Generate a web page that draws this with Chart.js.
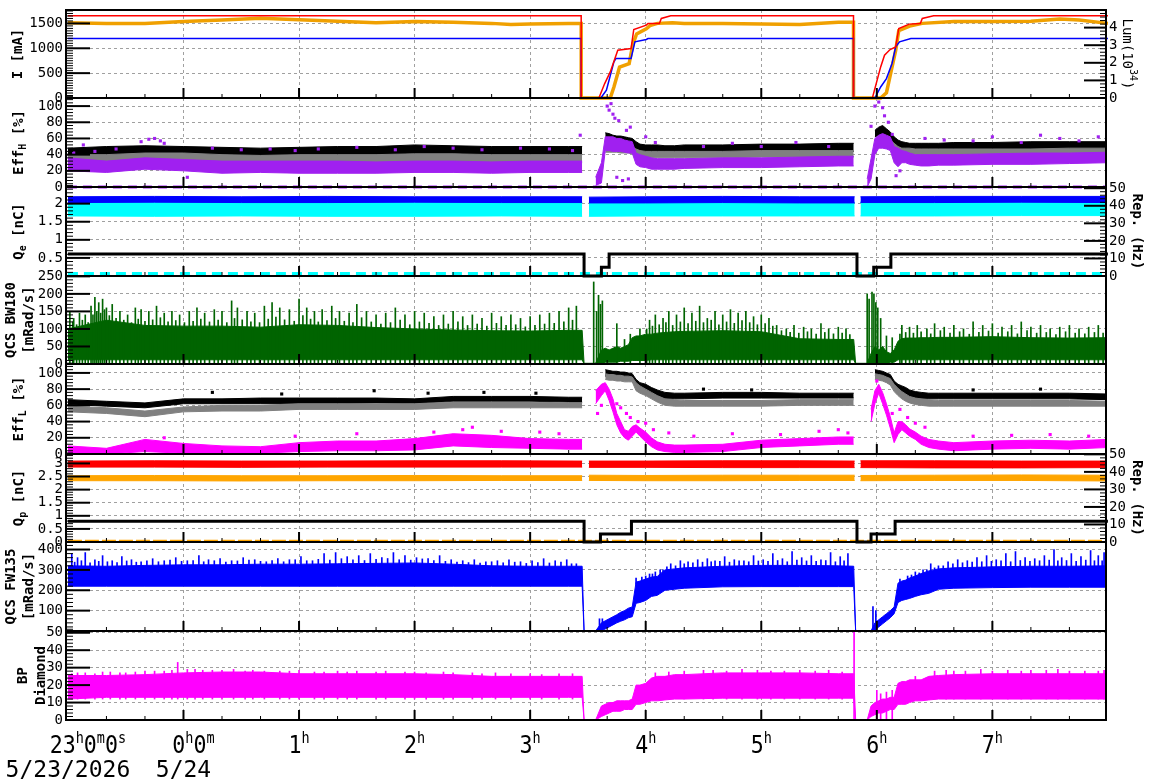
<!DOCTYPE html>
<html>
<head>
<meta charset="utf-8">
<title>Beam status</title>
<script src="https://cdn.jsdelivr.net/npm/chart.js@4.4.1/dist/chart.umd.min.js"></script>
<style>
  html, body { margin: 0; padding: 0; background: #fff; }
  #wrap { position: relative; width: 1172px; height: 782px; overflow: hidden; background: #fff; }
  #wrap canvas { position: absolute; left: 0; }
</style>
</head>
<body>
<div id="wrap"></div>
<script>
// time axis: minutes after 23:00 on 5/23
const hourTicks = [60, 120, 180, 240, 300, 360, 420, 480];
const xLabels = ['23h0m0s', '0h0m', '1h', '2h', '3h', '4h', '5h', '6h', '7h'];
const xLabelTimes = [0, 60, 120, 180, 240, 300, 360, 420, 480];
const dateLabels = ['5/23/2026', '5/24'];
const dateTimes = [0, 60];

// y tick labels
const iTicks = [0, 500, 1000, 1500];
const lumTicks = [0, 1, 2, 3, 4];
const effTicks = [0, 20, 40, 60, 80, 100];
const qeTicks = [0, 0.5, 1, 1.5, 2];
const repTicks = [0, 10, 20, 30, 40, 50];
const bwTicks = [0, 50, 100, 150, 200, 250];
const qpTicks = [0, 0.5, 1, 1.5, 2, 2.5, 3];
const fwTicks = [0, 100, 200, 300, 400];
const bpTicks = [0, 10, 20, 30, 40, 50];

// beam currents [mA] and luminosity [1e34]
const lerT = [0, 266.5, 266.5, 275.7, 278.7, 281.6, 285.5, 292.4, 293.8, 300.3, 301.2, 307.1, 308.1, 313, 407.9, 407.9, 417.7, 422, 424, 426.9, 429.8, 431.4, 436.8, 442.6, 443.6, 449.5, 540];
const lerI = [1655, 1655, 0, 0, 290, 524, 962, 996, 1379, 1466, 1500, 1500, 1600, 1653, 1653, 0, 0, 625, 861, 975, 1028, 1399, 1486, 1500, 1600, 1653, 1653];
const herT = [0, 266.5, 266.5, 276.7, 279.6, 283.5, 284.5, 292.4, 294.4, 300.3, 301.2, 407.9, 407.9, 419, 422, 425, 427.9, 429.8, 431.8, 437.7, 540];
const herI = [1197, 1197, 0, 0, 155, 726, 794, 794, 1129, 1177, 1197, 1197, 0, 0, 222, 391, 694, 1028, 1129, 1197, 1197];
const lumT = [0, 20, 40, 60, 80, 100, 120, 140, 160, 180, 200, 220, 230, 240, 260, 266.5, 266.5, 281.6, 283.5, 286.4, 291.4, 293.4, 295.3, 300.3, 302.2, 306.1, 313.9, 320, 340, 360, 380, 400, 407.9, 407.9, 422, 425, 427.9, 429.8, 431.4, 437.7, 443.6, 460, 480, 500, 515, 525, 540];
const lumV = [4.27, 4.24, 4.24, 4.34, 4.43, 4.53, 4.45, 4.36, 4.28, 4.34, 4.30, 4.24, 4.17, 4.20, 4.24, 4.24, 0, 0, 0.62, 1.75, 1.95, 3.08, 3.64, 3.93, 4.11, 4.24, 4.27, 4.24, 4.24, 4.20, 4.17, 4.30, 4.30, 0, 0, 0.3, 1.75, 2.7, 3.83, 4.11, 4.24, 4.34, 4.34, 4.36, 4.49, 4.43, 4.24];

// injection repetition [Hz]
const repET = [0, 268, 268, 277, 277, 281, 281, 409.7, 409.7, 418.4, 418.4, 427.3, 427.3, 540];
const repEV = [12.5, 12.5, 0, 0, 5, 5, 12.5, 12.5, 0, 0, 5, 5, 12.5, 12.5];
const repPT = [0, 268, 268, 276.5, 276.5, 292.6, 292.6, 409.7, 409.7, 417, 417, 429.5, 429.5, 540];
const repPV = [11.8, 11.8, 0, 0, 4.5, 4.5, 11.8, 11.8, 0, 0, 4.5, 4.5, 11.8, 11.8];

// rows of readings sitting on the floor of a panel
const fullSpanT = [0, 539];
const effHZeroRow = [0, 0];
const qeLowRow = [0.07, 0.07];
const qpLowRow = [0.03, 0.03];

// sample times for the band-like series
const T = [0, 20, 40, 60, 80, 100, 120, 140, 160, 180, 200, 220, 240, 260, 267,
  268, 274, 277, 279, 281, 283, 285, 287, 289, 291, 293, 295, 297, 300, 303, 306, 310, 315, 320, 340, 360, 380, 400, 408,
  409, 415, 417, 419, 421, 423, 425, 427, 429, 431, 433, 435, 437, 440, 443, 447, 452, 460, 480, 500, 520, 540];

// Eff_H [%]
const effHBlackLo = [38, 40, 41, 40, 40, 39, 40, 40, 40, 41, 41, 40, 40, 40, 40,
  null, null, null, 55, 56, 55, 55, 54, 54, 53, 52, 47, 44, 43, 42, 42, 42, 42, 42, 43, 43, 44, 44, 44,
  null, null, null, 62, 64, 65, 62, 58, 52, 48, 48, 47, 46, 45, 45, 45, 45, 45, 46, 46, 46, 46];
const effHBlackHi = [48, 50, 51, 50, 49, 48, 49, 50, 50, 52, 51, 50, 50, 50, 50,
  null, null, null, 67, 66, 64, 63, 63, 62, 61, 60, 56, 53, 52, 52, 52, 51, 51, 52, 52, 53, 53, 54, 54,
  null, null, null, 70, 74, 76, 72, 68, 62, 58, 56, 55, 54, 54, 54, 54, 54, 55, 55, 56, 56, 56];
const effHGrayLo = [30, 30, 32, 32, 30, 29, 30, 30, 30, 31, 31, 30, 30, 30, 30,
  null, null, null, 43, 43, 43, 43, 42, 42, 42, 41, 40, 38, 36, 36, 36, 36, 36, 36, 36, 37, 37, 37, 37,
  null, null, null, 48, 50, 50, 49, 48, 45, 42, 40, 40, 40, 40, 40, 40, 40, 40, 40, 40, 41, 41];
const effHGrayHi = [40, 40, 42, 42, 40, 39, 40, 40, 40, 41, 41, 40, 40, 40, 40,
  null, null, null, 51, 51, 51, 51, 50, 50, 50, 49, 47, 45, 44, 44, 44, 44, 44, 44, 44, 45, 45, 45, 45,
  null, null, null, 58, 60, 60, 59, 58, 54, 50, 48, 48, 48, 47, 47, 47, 47, 47, 47, 47, 48, 48];
const effHPurpleLo = [20, 18, 22, 20, 17, 18, 17, 17, 17, 18, 18, 17, 18, 18, 18,
  null, 2, 5, 45, 45, 44, 44, 44, 43, 42, 42, 28, 25, 24, 22, 22, 22, 22, 23, 24, 24, 25, 26, 26,
  null, 0, 10, 40, 48, 48, 47, 45, 30, 25, 30, 30, 28, 27, 26, 26, 27, 27, 28, 28, 29, 30];
const effHPurpleHi = [36, 32, 36, 34, 32, 32, 32, 32, 31, 32, 32, 31, 32, 32, 32,
  null, 12, 30, 62, 62, 62, 60, 60, 58, 57, 56, 42, 40, 38, 36, 35, 35, 35, 35, 36, 36, 37, 38, 38,
  null, 10, 35, 60, 64, 66, 64, 62, 50, 48, 45, 44, 42, 40, 40, 40, 40, 40, 41, 42, 42, 43];
const effHOutT = [3, 8, 14, 25, 38, 42, 45, 48, 50, 62, 75, 90, 105, 118, 130, 150, 170, 185, 200, 215, 235, 250, 262, 266,
  276, 280, 281, 282, 283, 284, 285, 286, 288, 290, 291, 292, 300, 305, 330, 345, 360, 378, 395,
  417, 419, 421, 423, 424, 426, 428, 430, 432, 445, 455, 470, 480, 495, 505, 515, 525, 535];
const effHOutV = [42, 52, 44, 47, 56, 59, 60, 57, 54, 12, 48, 46, 47, 45, 47, 49, 46, 50, 48, 46, 48, 47, 45, 64,
  6, 100, 95, 103, 90, 85, 12, 82, 8, 70, 10, 74, 62, 55, 50, 54, 50, 55, 50,
  75, 100, 105, 98, 88, 80, 65, 14, 20, 60, 58, 57, 62, 55, 64, 60, 57, 62];

// QCS BW180 [mRad/s]
const bwLo = [12, 12, 12, 12, 12, 12, 12, 12, 12, 12, 12, 12, 12, 12, 12,
  0, 0, 0, 5, 5, 5, 5, 8, 8, 8, 10, 10, 10, 10, 12, 12, 12, 12, 12, 12, 12, 12, 12, 12,
  0, 0, 0, 0, 0, 0, 0, 5, 5, 12, 12, 12, 12, 12, 12, 12, 12, 12, 12, 12, 12, 12];
const bwHi = [100, 125, 110, 108, 108, 105, 112, 110, 104, 100, 97, 95, 94, 96, 96,
  2, 2, 40, 45, 40, 45, 50, 45, 50, 55, 75, 80, 80, 85, 85, 88, 90, 92, 93, 95, 92, 72, 70, 70,
  2, 2, 30, 50, 40, 50, 35, 30, 40, 65, 72, 74, 74, 74, 75, 75, 76, 76, 78, 75, 74, 75];
const bwSpikeT = [1, 3, 6, 9, 12, 14, 16, 18, 20, 23, 27, 31, 35, 38, 42, 46, 50, 54, 58, 63, 67, 71, 76, 80, 85, 88, 93, 97, 102, 106,
  110, 115, 120, 124, 128, 132, 137, 141, 146, 150, 155, 160, 165, 170, 175, 180, 185, 190, 195, 200, 205, 210, 215, 220, 225, 230, 235, 240, 245, 250, 255, 260, 264,
  273, 274.5, 275.5, 276.5, 277.5, 285, 289, 292, 297, 302, 305, 309, 312, 316, 320, 324, 328, 332, 336, 340, 344, 348, 352, 356, 360, 364, 368, 373, 377, 382, 386, 391, 395, 400, 404,
  415, 416, 417.5, 418.5, 419.5, 420.5, 422, 425, 428, 433, 437, 441, 446, 450, 455, 460, 465, 470, 475, 480, 485, 490, 495, 500, 505, 510, 515, 520, 525, 530, 535, 539];
const bwSpikeV = [150, 130, 145, 140, 165, 190, 175, 185, 160, 170, 150, 140, 160, 155, 150, 165, 145, 150, 140, 150, 160, 145, 155, 150, 180, 160, 150, 145, 165, 175,
  160, 155, 185, 160, 150, 155, 165, 150, 145, 170, 150, 140, 145, 160, 140, 150, 145, 135, 140, 150, 135, 140, 130, 145, 135, 140, 130, 135, 140, 145, 150, 160, 165,
  234, 150, 196, 170, 180, 115, 70, 85, 100, 125, 140, 130, 150, 140, 160, 145, 165, 130, 150, 140, 155, 145, 150, 135, 140, 130, 110, 100, 110, 105, 100, 115, 100, 105, 100,
  200, 185, 205, 200, 175, 160, 130, 80, 75, 110, 105, 110, 100, 115, 105, 110, 100, 120, 110, 115, 105, 110, 120, 105, 110, 100, 105, 110, 100, 105, 110, 100];
const bwFineT = [2.5, 4.5, 7.5, 10.5, 13, 15, 17, 19, 21.5, 25, 29, 33, 36.5, 40, 44, 48, 52, 56, 60.5, 65,
  69, 73.5, 78, 82.5, 86.5, 90.5, 95, 99.5, 104, 108, 112.5, 117.5, 122, 126, 130, 134.5, 139, 143.5, 148, 152.5,
  157.5, 162.5, 167.5, 172.5, 177.5, 182.5, 187.5, 192.5, 197.5, 202.5, 207.5, 212.5, 217.5, 222.5, 227.5, 232.5, 237.5, 242.5, 247.5, 252.5, 257.5, 262,
  300.5, 303.5, 307, 310.5, 314, 318, 322, 326, 330, 334, 338, 342, 346, 350, 354, 358, 362, 366, 370.5, 375, 379.5, 384, 388.5, 393, 397.5, 402, 406,
  432, 435, 439, 443, 448, 453, 458, 463, 468, 473, 478, 483, 488, 493, 498, 503, 508, 513, 518, 523, 528, 533, 537.5];
const bwFineV = [120, 112, 125, 118, 140, 150, 145, 155, 138, 130, 125, 118, 128, 122, 126, 132, 120, 124, 118, 122,
  128, 120, 125, 118, 130, 126, 120, 118, 128, 134, 126, 122, 138, 128, 120, 124, 130, 122, 118, 132,
  120, 114, 118, 125, 112, 120, 116, 110, 114, 120, 110, 114, 108, 116, 110, 112, 106, 110, 114, 116, 120, 125,
  100, 108, 112, 118, 110, 120, 115, 122, 118, 125, 112, 120, 116, 124, 118, 112, 115, 108, 95, 90, 88, 92, 85, 90, 86, 88, 84,
  85, 90, 88, 92, 86, 95, 88, 92, 85, 90, 94, 88, 92, 86, 95, 88, 90, 84, 92, 88, 86, 90, 88];

// Eff_L [%]
const effLBlackLo = [61, 59, 57, 62, 62, 62, 62, 62, 63, 62, 65, 65, 65, 64, 64,
  null, null, null, 96, 96, 95, 95, 94, 94, 93, 92, 82, 79, 77, 74, 71, 68, 68, 68, 69, 69, 69, 69, 69,
  null, null, null, 97, 96, 95, 93, 90, 82, 78, 75, 73, 71, 69, 68, 68, 68, 68, 68, 68, 68, 67];
const effLBlackHi = [67, 65, 63, 68, 68, 69, 69, 69, 69, 68, 71, 71, 71, 70, 70,
  null, null, null, 104, 103, 102, 102, 101, 101, 100, 99, 92, 88, 86, 82, 79, 76, 75, 75, 76, 76, 75, 75, 75,
  null, null, null, 104, 103, 102, 100, 98, 90, 86, 84, 82, 79, 77, 76, 75, 75, 75, 75, 75, 75, 74];
const effLGrayLo = [52, 50, 46, 52, 53, 53, 55, 55, 55, 55, 57, 57, 57, 57, 57,
  null, null, null, 92, 91, 91, 90, 90, 89, 89, 89, 78, 75, 72, 68, 64, 60, 59, 59, 59, 59, 60, 60, 60,
  null, null, null, 92, 91, 90, 88, 85, 77, 72, 68, 65, 63, 61, 60, 59, 59, 59, 59, 59, 59, 59];
const effLGrayHi = [59, 57, 53, 58, 60, 60, 62, 62, 62, 62, 64, 64, 64, 63, 63,
  null, null, null, 99, 98, 98, 97, 97, 96, 96, 95, 88, 84, 80, 76, 72, 68, 67, 66, 66, 66, 67, 67, 67,
  null, null, null, 99, 98, 97, 95, 93, 86, 81, 77, 74, 71, 69, 68, 67, 66, 66, 66, 66, 66, 65];
const effLMagLo = [1, 0, 3, 1, 1, 1, 3, 4, 4, 5, 10, 8, 7, 6, 6,
  null, 62, 72, 78, 66, 52, 36, 26, 20, 17, 22, 27, 22, 15, 9, 5, 3, 2, 2, 3, 8, 10, 12, 12,
  null, null, 40, 62, 75, 62, 48, 32, 14, 24, 30, 26, 22, 18, 12, 8, 6, 4, 6, 7, 6, 8];
const effLMagHi = [10, 7, 18, 13, 10, 9, 14, 16, 16, 19, 25, 23, 19, 18, 18,
  null, 78, 86, 88, 80, 68, 50, 40, 30, 28, 34, 36, 32, 27, 20, 15, 12, 11, 11, 12, 17, 19, 21, 21,
  null, null, 55, 78, 86, 76, 62, 46, 26, 40, 40, 36, 31, 27, 22, 18, 16, 14, 16, 17, 16, 18];
const effLOutT = [50, 118, 150, 190, 205, 210, 225, 245, 255,
  275, 277, 285, 287, 290, 292, 296, 300, 304, 312, 325, 345, 370, 390, 400, 405,
  420, 428, 432, 436, 440, 445, 470, 490, 510, 530];
const effLOutV = [20, 22, 25, 27, 30, 33, 28, 27, 25,
  50, 60, 62, 57, 50, 45, 40, 38, 30, 26, 22, 25, 24, 28, 30, 26,
  90, 50, 55, 45, 38, 33, 22, 23, 24, 22];
const effLBlackOutT = [75, 111, 159, 187, 216, 243, 330, 355, 470, 505];
const effLBlackOutV = [76, 74, 78, 75, 76, 75, 80, 79, 79, 80];

// bunch charge [nC], sampled more coarsely
const QT = [0, 45, 90, 135, 180, 225, 267, 268, 270.5, 300, 340, 380, 408.5, 409.5, 411.5, 450, 495, 540];
const qeBlueLo = [2.03, 2.04, 2.03, 2.03, 2.04, 2.03, 2.03, null, 2.02, 2.02, 2.03, 2.02, 2.02, null, 2.03, 2.03, 2.04, 2.03];
const qeBlueHi = [2.19, 2.2, 2.19, 2.2, 2.19, 2.19, 2.19, null, 2.18, 2.19, 2.2, 2.19, 2.19, null, 2.19, 2.2, 2.2, 2.2];
const qeCyanLo = [1.66, 1.65, 1.66, 1.65, 1.65, 1.66, 1.65, null, 1.65, 1.66, 1.66, 1.66, 1.66, null, 1.66, 1.66, 1.67, 1.67];
const qeCyanHi = [2.05, 2.05, 2.04, 2.04, 2.05, 2.04, 2.04, null, 2.04, 2.04, 2.04, 2.04, 2.04, null, 2.05, 2.05, 2.06, 2.06];
const qpRedLo = [2.86, 2.86, 2.85, 2.86, 2.86, 2.86, 2.86, null, 2.85, 2.85, 2.84, 2.84, 2.84, null, 2.84, 2.83, 2.83, 2.84];
const qpRedHi = [3.09, 3.1, 3.09, 3.09, 3.1, 3.1, 3.09, null, 3.09, 3.09, 3.1, 3.1, 3.09, null, 3.1, 3.1, 3.09, 3.09];
const qpOrangeLo = [2.34, 2.34, 2.33, 2.34, 2.34, 2.35, 2.35, null, 2.35, 2.34, 2.34, 2.35, 2.35, null, 2.34, 2.35, 2.35, 2.33];
const qpOrangeHi = [2.53, 2.54, 2.53, 2.53, 2.54, 2.53, 2.53, null, 2.55, 2.54, 2.55, 2.55, 2.55, null, 2.54, 2.55, 2.56, 2.55];

// QCS FW135 [mRad/s]
const fwLo = [220, 220, 220, 220, 220, 220, 220, 220, 220, 220, 220, 220, 220, 220, 220,
  0, 0, 2, 10, 20, 30, 40, 48, 55, 65, 70, 136, 140, 150, 170, 175, 200, 205, 210, 217, 218, 218, 218, 218,
  0, 0, 0, 2, 20, 35, 50, 65, 85, 140, 150, 155, 160, 170, 178, 185, 205, 210, 213, 215, 215, 215];
const fwHi = [320, 318, 322, 325, 325, 328, 328, 330, 332, 334, 328, 320, 318, 318, 318,
  0, 0, 40, 50, 60, 70, 80, 92, 100, 112, 118, 240, 245, 255, 265, 268, 300, 305, 310, 318, 322, 322, 320, 318,
  0, 0, 0, 40, 55, 70, 85, 100, 118, 235, 245, 250, 260, 270, 282, 295, 305, 310, 315, 318, 318, 320];
const fwSpikeT = [2, 5, 9, 14, 18, 23, 28, 33, 38, 44, 50, 56, 62, 68, 73, 79, 85, 91, 97, 103, 109, 115, 121, 127, 133, 139, 145, 151, 157, 163,
  169, 175, 181, 187, 193, 199, 205, 211, 217, 223, 229, 235, 241, 247, 253, 259, 264,
  295, 298, 302, 305, 309, 313, 318, 322, 327, 332, 336, 341, 346, 351, 356, 361, 366, 371, 376, 381, 386, 391, 396, 401, 405,
  432, 436, 440, 444, 448, 452, 457, 462, 467, 472, 477, 482, 487, 492, 497, 502, 507, 512, 516, 521, 526, 531, 535, 538];
const fwSpikeV = [380, 360, 385, 350, 370, 345, 365, 350, 340, 355, 345, 360, 345, 370, 350, 355, 345, 360, 350, 340, 355, 350, 365, 345, 380, 385, 365, 370, 380, 360,
  385, 370, 360, 355, 370, 350, 345, 350, 340, 345, 350, 340, 345, 355, 345, 350, 330,
  260, 265, 280, 290, 300, 330, 345, 340, 350, 355, 345, 365, 350, 345, 370, 350, 380, 355, 390, 360, 370, 350, 385, 365, 380,
  255, 270, 290, 300, 330, 320, 340, 350, 345, 360, 370, 350, 380, 390, 360, 355, 370, 400, 360, 380, 365, 395, 370, 385];
const fwFineT = [3.5, 7, 11.5, 16, 20.5, 25.5, 30.5, 35.5, 41, 47, 53, 59, 65, 70.5, 76, 82, 88, 94, 100, 106,
  112, 118, 124, 130, 136, 142, 148, 154, 160, 166, 172, 178, 184, 190, 196, 202, 208, 214, 220, 226, 232, 238, 244, 250, 256, 261.5,
  300, 303.5, 307.5, 311, 315.5, 320, 324.5, 329.5, 334, 338.5, 343.5, 348.5, 353.5, 358.5, 363.5, 368.5, 373.5, 378.5, 383.5, 388.5, 393.5, 398.5, 403,
  438, 442, 446, 450, 454.5, 459.5, 464.5, 469.5, 474.5, 479.5, 484.5, 489.5, 494.5, 499.5, 504.5, 509.5, 514, 518.5, 523.5, 528.5, 533, 537];
const fwFineV = [338, 345, 335, 342, 340, 336, 344, 338, 345, 340, 348, 342, 346, 340, 345, 338, 344, 348, 342, 346,
  340, 350, 345, 352, 348, 355, 350, 346, 352, 356, 350, 348, 354, 346, 342, 338, 336, 334, 340, 335, 338, 332, 336, 334, 338, 330,
  270, 280, 300, 315, 320, 330, 335, 338, 340, 342, 338, 345, 340, 344, 342, 346, 340, 348, 344, 342, 346, 340, 345,
  275, 285, 300, 310, 320, 330, 335, 338, 340, 342, 345, 340, 346, 342, 345, 348, 344, 346, 342, 348, 345, 344];
const fwRampT = [276, 277.5, 418, 419.5];
const fwRampV = [60, 60, 120, 100];

// BP Diamond
const bpLo = [12, 13, 13, 13, 13, 13, 13, 13, 13, 13, 13, 13, 13, 13, 13,
  0, 0, 2, 3, 4, 5, 5, 5, 6, 6, 6, 9, 9, 10, 11, 11, 11.5, 12, 12, 12.5, 12.5, 12.5, 12.5, 12.5,
  0, 0, 2, 3, 4, 4, 5, 6, 6, 9, 9, 9, 10, 11, 11, 11.5, 12, 12, 12, 12, 12, 12];
const bpHi = [25.5, 25.5, 26, 27, 27.5, 27.5, 26.5, 26.5, 26.5, 26.5, 26, 25, 25, 25, 25,
  0, 0, 8, 9, 10, 10, 11, 11, 11, 11, 12, 20, 20, 21, 24, 25, 25, 26, 26, 27, 27, 27, 26.5, 26.5,
  0, 0, 8, 10, 11, 12, 12, 13, 13, 21, 22, 22, 23, 23, 23, 25, 25.5, 26, 26.5, 26.5, 26.5, 26.5];
const bpSpikeT = [5, 18, 30, 45, 57, 62, 75, 92, 110, 128, 150, 175, 200, 230, 255, 330, 350, 372, 395, 440, 460, 480, 500, 520, 535];
const bpSpikeV = [27, 27.5, 27, 28, 33, 29, 28.5, 28, 28, 27.5, 28, 27.5, 27, 26.5, 26.5, 28.5, 29, 28, 28.5, 25, 28, 28, 28.5, 28, 28];
const bpFineT = [2, 9, 14, 22, 27, 35, 40, 50, 54, 66, 70, 80, 86, 96, 102, 115, 120, 133, 140, 145,
  160, 165, 180, 186, 195, 210, 215, 222, 240, 246, 262,
  305, 312, 320, 335, 342, 358, 365, 380, 388, 402,
  450, 456, 466, 474, 488, 495, 508, 514, 528, 538];
const bpFineV = [26.5, 27, 26.5, 27.5, 27, 27.5, 28, 28, 28.5, 29, 28.5, 28.5, 29, 28.5, 28, 28, 28.5, 27.5, 28, 27.5,
  27.5, 28, 27.5, 27, 27.5, 27, 26.5, 27, 26.5, 26, 26.5,
  27, 27.5, 28, 28.5, 28, 28.5, 28, 28.5, 28, 27.5,
  28, 28.5, 28, 29, 28.5, 28, 28.5, 29, 28, 28.5];
const bpLowT = [408.2, 420, 422, 425, 428];
const bpLowV = [60, 17, 15, 16, 17];

// ---------------------------------------------------------------
const FONT = '"DejaVu Sans Mono", monospace';
const GRID = '#a0a0a0';
const RED = '#ff0000', BLUE = '#0000ff', ORANGE = '#ffa500', PURPLE = '#a020f0', GRAY = '#808080';
const CYAN = '#00ffff', GREEN = '#006400', MAGENTA = '#ff00ff';
const X_MIN = -1, X_MAX = 539;
const SIDE_W = 66, PAD = 15;
Chart.defaults.font.family = FONT;
const wrap = document.getElementById('wrap');

function pts(xs, ys) { return xs.map((x, i) => ({ x: x, y: ys[i] })); }

// filled band between a lower and an upper trace
function band(xs, lo, hi, color) {
  return [
    { type: 'line', data: pts(xs, hi), borderColor: color, backgroundColor: color, borderWidth: 1, pointRadius: 0, fill: '+1' },
    { type: 'line', data: pts(xs, lo), borderColor: color, backgroundColor: color, borderWidth: 1, pointRadius: 0, fill: false }
  ];
}
function trace(xs, ys, color, width, axis, dash) {
  return { type: 'line', data: pts(xs, ys), yAxisID: axis || 'y', borderColor: color, borderWidth: width,
    pointRadius: 0, fill: false, borderDash: dash || [], clip: 4 };
}
function dots(xs, ys, color) {
  return { type: 'line', data: pts(xs, ys), showLine: false, pointStyle: 'rect', pointRadius: 2.2,
    pointBorderWidth: 0, pointBackgroundColor: color, borderColor: color, backgroundColor: color };
}
function spikes(xs, ys, color, base) {
  return { type: 'bar', data: pts(xs, ys), backgroundColor: color, barThickness: 1, base: base, grouped: false };
}

function rotText(ctx, cx, cy, ang, parts, size, bold) {
  const w0 = bold ? 'bold ' : '';
  const big = w0 + size + 'px ' + FONT;
  const small = w0 + Math.round(size * 0.72) + 'px ' + FONT;
  ctx.save();
  ctx.translate(cx, cy);
  ctx.rotate(ang);
  ctx.textBaseline = 'middle';
  ctx.textAlign = 'left';
  const ws = parts.map(q => { ctx.font = q[1] === 'n' ? big : small; return ctx.measureText(q[0]).width; });
  let x = -ws.reduce((s, w) => s + w, 0) / 2;
  parts.forEach((q, i) => {
    ctx.font = q[1] === 'n' ? big : small;
    const dy = q[1] === 'sub' ? size * 0.35 : (q[1] === 'sup' ? -size * 0.42 : 0);
    ctx.fillText(q[0], x, dy);
    x += ws[i];
  });
  ctx.restore();
}

function axisTicks(ctx, scale, cfg, x0, dir, majorLen, minorLen) {
  const n = Math.round(cfg.max / cfg.minor);
  ctx.lineWidth = 1;
  for (let k = 1; k <= n; k++) {
    const py = scale.getPixelForValue(k * cfg.minor);
    ctx.beginPath(); ctx.moveTo(x0, py); ctx.lineTo(x0 + dir * minorLen, py); ctx.stroke();
  }
  ctx.lineWidth = 2;
  cfg.ticks.forEach(v => {
    const py = scale.getPixelForValue(v);
    ctx.beginPath(); ctx.moveTo(x0, py); ctx.lineTo(x0 + dir * majorLen, py); ctx.stroke();
  });
}

function drawTimeLabels(ctx, xs, b) {
  const big = '24px ' + FONT, sup = '15px ' + FONT, sx = 0.9;
  ctx.save();
  ctx.fillStyle = '#000';
  ctx.textAlign = 'left';
  ctx.textBaseline = 'alphabetic';
  xLabels.forEach((lab, i) => {
    const tokens = lab.match(/\d+|[a-z]+/g);
    const ws = tokens.map(tk => { ctx.font = /\d/.test(tk) ? big : sup; return ctx.measureText(tk).width * sx; });
    const w = ws.reduce((s, v) => s + v, 0);
    let x = xs.getPixelForValue(xLabelTimes[i]) - w / 2 + (Math.ceil(tokens.length / 2) - 1) * 10;
    tokens.forEach((tk, k) => {
      const num = /\d/.test(tk);
      ctx.font = num ? big : sup;
      ctx.save();
      ctx.translate(x, b + (num ? 33 : 23));
      ctx.scale(sx, 1);
      ctx.fillText(tk, 0, 0);
      ctx.restore();
      x += ws[k];
    });
  });
  ctx.font = '23px ' + FONT;
  ctx.textAlign = 'center';
  dateLabels.forEach((d, i) => ctx.fillText(d, xs.getPixelForValue(dateTimes[i]), b + 57));
  ctx.restore();
}

const decor = {
  id: 'decor',
  afterDraw(chart) {
    const p = chart.canvas._deco;
    const ctx = chart.ctx, a = chart.chartArea, xs = chart.scales.x;
    ctx.save();
    ctx.strokeStyle = '#000';
    ctx.fillStyle = '#000';
    // time ticks along the bottom edge
    for (let m = 20; m < X_MAX; m += 20) {
      const px = xs.getPixelForValue(m);
      const major = m % 60 === 0;
      ctx.lineWidth = major ? 2 : 1;
      ctx.beginPath(); ctx.moveTo(px, a.bottom); ctx.lineTo(px, a.bottom - (major ? 10 : 4)); ctx.stroke();
    }
    axisTicks(ctx, chart.scales.y, p.y, a.left, 1, 24, 7);
    if (p.y2) axisTicks(ctx, chart.scales.y2, p.y2, a.right, -1, 22, 6);
    ctx.lineWidth = 2;
    ctx.strokeRect(a.left, a.top, a.right - a.left, a.bottom - a.top);
    const cy = (a.top + a.bottom) / 2;
    p.left.forEach(t => rotText(ctx, t.x, cy, -Math.PI / 2, t.parts, 14, true));
    if (p.right) rotText(ctx, p.right.x, cy, Math.PI / 2, p.right.parts, 14, p.right.bold);
    if (p.timeLabels) drawTimeLabels(ctx, xs, a.bottom);
    ctx.restore();
  }
};

function yScale(cfg, pos) {
  return {
    position: pos, min: 0, max: cfg.max,
    afterBuildTicks: s => { s.ticks = cfg.ticks.map(v => ({ value: v })); },
    afterFit: s => { s.width = SIDE_W; },
    ticks: { font: { family: FONT, size: 14 }, color: '#000', padding: 3, autoSkip: false,
      callback: v => (cfg.hideZero && v === 0) ? '' : String(v) },
    grid: { color: GRID, drawTicks: false, drawOnChartArea: pos === 'left' },
    border: { display: false, dash: [3, 3] }
  };
}

function addPanel(p) {
  const padB = p.padBottom || PAD;
  const h = p.bottom - p.top + PAD + padB;
  const canvas = document.createElement('canvas');
  canvas.width = 1172;
  canvas.height = h;
  canvas.style.top = (p.top - PAD) + 'px';
  canvas.style.width = '1172px';
  canvas.style.height = h + 'px';
  canvas._deco = p;
  wrap.appendChild(canvas);
  const scales = {
    x: {
      type: 'linear', min: X_MIN, max: X_MAX, offset: false,
      afterBuildTicks: s => { s.ticks = hourTicks.map(v => ({ value: v })); },
      afterFit: s => { s.height = 0; },
      ticks: { display: false },
      grid: { color: GRID, drawTicks: false, offset: false },
      border: { display: false, dash: [3, 3] }
    },
    y: yScale(p.y, 'left')
  };
  if (p.y2) scales.y2 = yScale(p.y2, 'right');
  new Chart(canvas, {
    type: 'line',
    data: { datasets: p.datasets },
    options: {
      responsive: false,
      animation: false,
      devicePixelRatio: 1,
      events: [],
      layout: { padding: { left: 0, right: p.y2 ? 0 : SIDE_W, top: PAD, bottom: padB } },
      plugins: { legend: { display: false }, tooltip: { enabled: false } },
      scales: scales
    },
    plugins: [decor]
  });
}

addPanel({
  top: 10, bottom: 98,
  y: { max: 1770, ticks: iTicks, minor: 50 },
  y2: { max: 5, ticks: lumTicks, minor: 0.2 },
  left: [{ x: 18, parts: [['I [mA]', 'n']] }],
  right: { x: 1127, parts: [['Lum(10', 'n'], ['34', 'sup'], [')', 'n']], bold: false },
  datasets: [trace(lerT, lerI, RED, 1.5), trace(herT, herI, BLUE, 1.5), trace(lumT, lumV, '#f0a000', 3.5, 'y2')]
});

addPanel({
  top: 98, bottom: 187,
  y: { max: 110, ticks: effTicks, minor: 4 },
  left: [{ x: 19, parts: [['Eff', 'n'], ['H', 'sub'], [' [%]', 'n']] }],
  datasets: [
    trace(fullSpanT, effHZeroRow, PURPLE, 3, 'y', [9, 6]),
    dots(effHOutT, effHOutV, PURPLE),
    ...band(T, effHPurpleLo, effHPurpleHi, PURPLE),
    ...band(T, effHGrayLo, effHGrayHi, GRAY),
    ...band(T, effHBlackLo, effHBlackHi, '#000')
  ]
});

addPanel({
  top: 187, bottom: 276,
  y: { max: 2.46, ticks: qeTicks, minor: 0.1, hideZero: true },
  y2: { max: 50.7, ticks: repTicks, minor: 2 },
  left: [{ x: 19, parts: [['Q', 'n'], ['e', 'sub'], [' [nC]', 'n']] }],
  right: { x: 1137, parts: [['Rep. (Hz)', 'n']], bold: true },
  datasets: [
    trace(repET, repEV, '#000', 3, 'y2'),
    trace(fullSpanT, qeLowRow, CYAN, 3, 'y', [10, 6]),
    ...band(QT, qeBlueLo, qeBlueHi, BLUE),
    ...band(QT, qeCyanLo, qeCyanHi, CYAN)
  ]
});

addPanel({
  top: 276, bottom: 364,
  y: { max: 251, ticks: bwTicks, minor: 10 },
  left: [{ x: 11, parts: [['QCS BW180', 'n']] }, { x: 29, parts: [['[mRad/s]', 'n']] }],
  datasets: [spikes(bwSpikeT, bwSpikeV, GREEN, 0), spikes(bwFineT, bwFineV, GREEN, 0), ...band(T, bwLo, bwHi, GREEN)]
});

addPanel({
  top: 364, bottom: 454,
  y: { max: 111, ticks: effTicks, minor: 4 },
  left: [{ x: 19, parts: [['Eff', 'n'], ['L', 'sub'], [' [%]', 'n']] }],
  datasets: [
    dots(effLOutT, effLOutV, MAGENTA),
    ...band(T, effLMagLo, effLMagHi, MAGENTA),
    dots(effLBlackOutT, effLBlackOutV, '#000'),
    ...band(T, effLGrayLo, effLGrayHi, GRAY),
    ...band(T, effLBlackLo, effLBlackHi, '#000')
  ]
});

addPanel({
  top: 454, bottom: 542,
  y: { max: 3.36, ticks: qpTicks, minor: 0.1 },
  y2: { max: 50.2, ticks: repTicks, minor: 2 },
  left: [{ x: 19, parts: [['Q', 'n'], ['p', 'sub'], [' [nC]', 'n']] }],
  right: { x: 1137, parts: [['Rep. (Hz)', 'n']], bold: true },
  datasets: [
    trace(repPT, repPV, '#000', 3, 'y2'),
    trace(fullSpanT, qpLowRow, ORANGE, 3, 'y', [14, 3]),
    ...band(QT, qpRedLo, qpRedHi, RED),
    ...band(QT, qpOrangeLo, qpOrangeHi, ORANGE)
  ]
});

addPanel({
  top: 542, bottom: 631,
  y: { max: 437, ticks: fwTicks, minor: 20, hideZero: true },
  left: [{ x: 11, parts: [['QCS FW135', 'n']] }, { x: 29, parts: [['[mRad/s]', 'n']] }],
  datasets: [spikes(fwSpikeT, fwSpikeV, BLUE, 230), spikes(fwFineT, fwFineV, BLUE, 230), spikes(fwRampT, fwRampV, BLUE, 0), ...band(T, fwLo, fwHi, BLUE)]
});

addPanel({
  top: 631, bottom: 720, padBottom: 62,
  y: { max: 51, ticks: bpTicks, minor: 2 },
  left: [{ x: 23, parts: [['BP', 'n']] }, { x: 41, parts: [['Diamond', 'n']] }],
  timeLabels: true,
  datasets: [spikes(bpSpikeT, bpSpikeV, MAGENTA, 12), spikes(bpFineT, bpFineV, MAGENTA, 12), spikes(bpLowT, bpLowV, MAGENTA, 0), ...band(T, bpLo, bpHi, MAGENTA)]
});
</script>
</body>
</html>
